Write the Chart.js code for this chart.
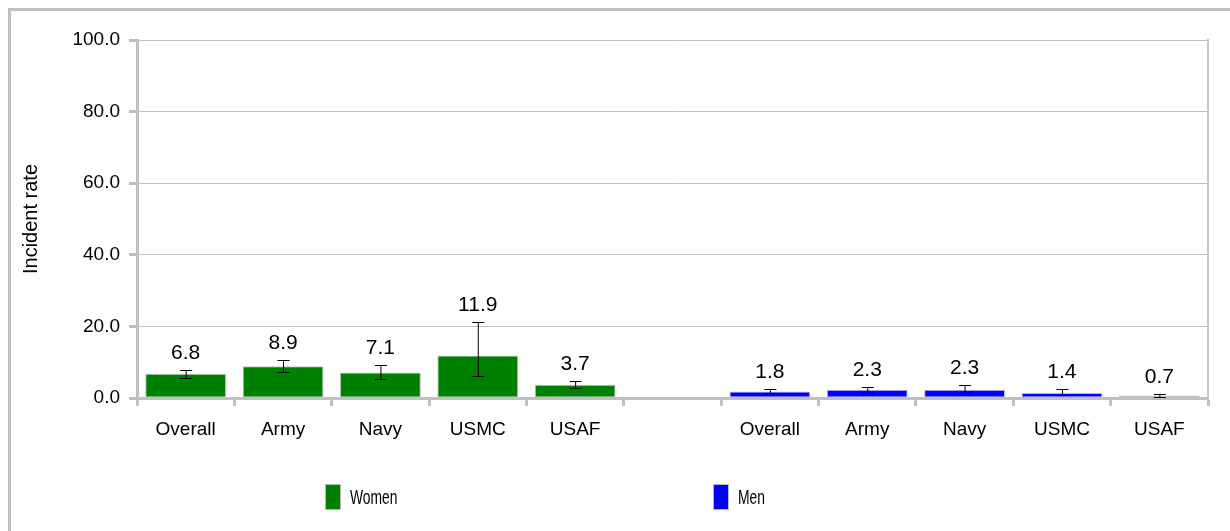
<!DOCTYPE html>
<html>
<head>
<meta charset="utf-8">
<script src="https://cdn.jsdelivr.net/npm/chart.js@4.4.0/dist/chart.umd.min.js"></script>
<style>
  body { margin: 0; background: #fff; }
  #wrap { position: relative; width: 1230px; height: 531px; overflow: hidden; }
  #frame { position: absolute; left: 8px; top: 8px; width: 1300px; height: 600px;
           border: 3px solid #c0c0c0; box-sizing: border-box; }
  canvas { position: absolute; left: 0; top: 0; }
  .leg { position: absolute; top: 484px; height: 26px; display: flex; align-items: center;
         font-family: "Liberation Sans", Arial, sans-serif; font-size: 21px; color: #000; }
  .leg .box { width: 14px; height: 24px; border: 1px solid #b8b8b8; margin-right: 9px; }
  .leg span { display: inline-block; transform: scaleX(0.66); transform-origin: left center; }
</style>
</head>
<body>
<div id="wrap">
  <div id="frame"></div>
  <canvas id="chart" width="1230" height="531"></canvas>
  <div class="leg" style="left:325px"><div class="box" style="background:#008000"></div><span>Women</span></div>
  <div class="leg" style="left:713px"><div class="box" style="background:#0000ff"></div><span>Men</span></div>
</div>
<script>
// --- data ---
const services = ['Overall', 'Army', 'Navy', 'USMC', 'USAF'];
const womenRates = [6.8, 8.9, 7.1, 11.9, 3.7];
const womenLow = [5.6, 7.3, 5.3, 6.1, 2.8];
const womenHigh = [7.8, 10.6, 9.2, 21.2, 4.7];
const menRates = [1.8, 2.3, 2.3, 1.4, 0.7];
const menLow = [1.4, 1.5, 1.5, 0.9, 0.4];
const menHigh = [2.5, 3.1, 3.6, 2.4, 1.2];
const yTicks = [0, 20, 40, 60, 80, 100];

// one empty slot between the two groups
const labels = [...services, '', ...services];
const gap = [null];
const womenData = [...womenRates, ...gap, ...services.map(() => null)];
const menData = [...services.map(() => null), ...gap, ...menRates];
const lowAll = [...womenLow, null, ...menLow];
const highAll = [...womenHigh, null, ...menHigh];
const rateAll = [...womenRates, null, ...menRates];

const FONT = '"Liberation Sans", Arial, sans-serif';
const GRID = '#c0c0c0';

// error bars + value labels
const errorBars = {
    id: 'errorBars',
    afterDatasetsDraw(chart) {
        const { ctx } = chart;
        const y = chart.scales.y;
        ctx.save();
        chart.data.datasets.forEach((ds, di) => {
            const meta = chart.getDatasetMeta(di);
            meta.data.forEach((bar, i) => {
                if (ds.data[i] == null) return;
                const x = bar.x;
                const yTop = y.getPixelForValue(highAll[i]);
                const yBot = y.getPixelForValue(lowAll[i]);
                ctx.strokeStyle = '#000';
                ctx.lineWidth = 1;
                ctx.beginPath();
                ctx.moveTo(x + 0.5, yTop); ctx.lineTo(x + 0.5, yBot);
                ctx.moveTo(x - 5.5, Math.round(yTop) + 0.5); ctx.lineTo(x + 6.5, Math.round(yTop) + 0.5);
                ctx.moveTo(x - 5.5, Math.round(yBot) + 0.5); ctx.lineTo(x + 6.5, Math.round(yBot) + 0.5);
                ctx.stroke();
                ctx.fillStyle = '#000';
                ctx.font = '21px ' + FONT;
                ctx.textAlign = 'center';
                ctx.textBaseline = 'middle';
                ctx.fillText(rateAll[i].toFixed(1), x, yTop - 17);
            });
        });
        ctx.restore();
    }
};

new Chart(document.getElementById('chart'), {
    type: 'bar',
    data: {
        labels: labels,
        datasets: [
            { label: 'Women', data: womenData, backgroundColor: '#008000' },
            { label: 'Men', data: menData, backgroundColor: '#0000ff' }
        ]
    },
    options: {
        responsive: false,
        animation: false,
        layout: { padding: { left: 0, top: 40, right: 22, bottom: 0 } },
        datasets: {
            bar: {
                grouped: false,
                skipNull: true,
                barPercentage: 0.83,
                categoryPercentage: 1,
                borderColor: '#c0c0c0',
                borderWidth: 1,
                borderSkipped: false
            }
        },
        plugins: {
            legend: { display: false },
            tooltip: { enabled: false }
        },
        scales: {
            x: {
                offset: true,
                grid: { offset: true, drawOnChartArea: false, tickLength: 8, tickWidth: 3, tickColor: GRID },
                border: { color: GRID, width: 3 },
                ticks: { color: '#000', font: { family: FONT, size: 19 }, padding: 12, maxRotation: 0, autoSkip: false },
                afterFit(scale) { scale.height = 133; }
            },
            y: {
                min: 0,
                max: 100,
                afterBuildTicks(scale) { scale.ticks = yTicks.map(v => ({ value: v })); },
                grid: { color: GRID, lineWidth: 1, tickLength: 8, tickWidth: 3, tickColor: GRID },
                border: { color: GRID, width: 3 },
                ticks: {
                    color: '#000', font: { family: FONT, size: 19 }, padding: 9,
                    callback: (v) => Number(v).toFixed(1)
                },
                title: { display: true, text: 'Incident rate', color: '#000',
                         font: { family: FONT, size: 20 }, padding: { top: 19, bottom: 0 } },
                afterFit(scale) { scale.width = 137; }
            },
            right: {
                position: 'right',
                min: 0,
                max: 100,
                ticks: { display: false },
                grid: { drawOnChartArea: false, drawTicks: false },
                border: { color: '#c8c8c8', width: 2 },
                afterFit(scale) { scale.width = 0; }
            }
        }
    },
    plugins: [errorBars]
});
</script>
</body>
</html>
